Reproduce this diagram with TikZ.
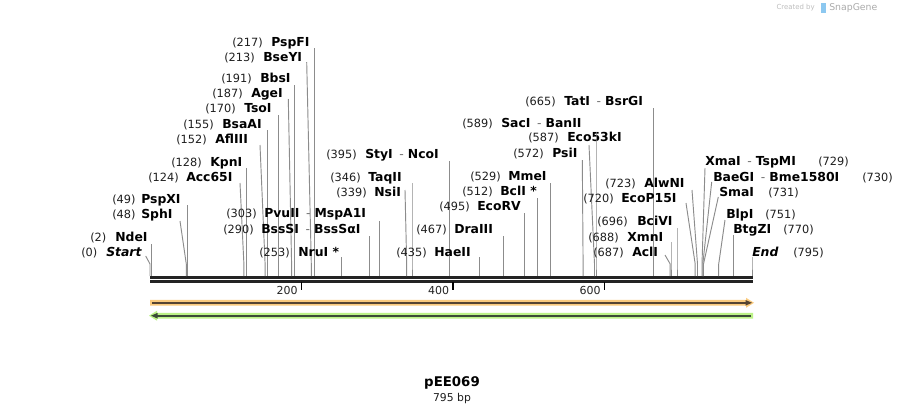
\documentclass[tikz,border=0pt]{standalone}
\usepackage{fontspec}
\setmainfont{DejaVu Sans}
\definecolor{seqc}{RGB}{35,35,35}
\definecolor{cutc}{RGB}{140,140,140}
\definecolor{numc}{RGB}{30,30,30}
\definecolor{dashc}{RGB}{110,110,110}
\definecolor{orL}{RGB}{250,202,125}
\definecolor{orD}{RGB}{85,68,50}
\definecolor{grL}{RGB}{188,242,135}
\definecolor{grD}{RGB}{60,75,55}
\definecolor{credc}{RGB}{190,190,190}
\definecolor{sgblue}{RGB}{140,200,240}
\newcommand{\dsh}{\hspace{5pt}{\mdseries\color{dashc}-}\hspace{3pt}}
\newcommand{\rsite}[8]{%
  \node[numtxt, anchor=base west] (p#1) at (#4,#6+4) {#2};
  \node[nmtxt, anchor=base west] (n#1) at (#5,#6+4) {#3};
  \coordinate (t#1) at #7;
  \coordinate (k#1) at (#8,264);
  \coordinate (s#1) at (#8,276);
  \draw[cutline] (t#1) -- (k#1) -- (s#1);
}
\begin{document}
\begin{tikzpicture}[x=0.75pt,y=-0.75pt,
  numtxt/.style={font=\fontsize{8.5}{10}\selectfont, text=numc, inner sep=0pt},
  nmtxt/.style={font=\fontsize{9.3}{11}\selectfont\bfseries, text=black, inner sep=0pt},
  cutline/.style={draw=cutc, line width=0.7pt},
  seqline/.style={draw=seqc, line width=2.1pt},
  ticktxt/.style={font=\fontsize{8.25}{10}\selectfont, text=seqc, inner sep=0pt, anchor=base east},
  tickmark/.style={draw=black, line width=1.2pt}]
\useasboundingbox[fill=white] (0,0) rectangle (904,415);

% sequence backbone
\coordinate (L1) at (150,277.3); \coordinate (R1) at (753,277.3);
\coordinate (L2) at (150,281.6); \coordinate (R2) at (753,281.6);
\draw[seqline] (L1) -- (R1);
\draw[seqline] (L2) -- (R2);

% ticks
\foreach \v/\xx in {200/301.4, 400/452.9, 600/604.3}{
  \coordinate (ta\v) at (\xx,281.6);
  \coordinate (tb\v) at (\xx,289.5);
  \draw[tickmark] (ta\v) -- (tb\v);
  \node[ticktxt] (tl\v) at (\xx-3.5,294) {\v};
}

% features (arrows)
\fill[orL] (150,299.9) -- (746,299.9) -- (746,297.8) -- (754,302.8) -- (746,307.8) -- (746,305.7) -- (150,305.7) -- cycle;
\draw[orD, line width=1.3pt] (152,302.8) -- (747,302.8);
\fill[orD] (745.5,300.0) -- (752,302.8) -- (745.5,305.6) -- cycle;
\fill[grL] (753,312.8) -- (157,312.8) -- (157,310.7) -- (149,315.7) -- (157,320.7) -- (157,318.6) -- (753,318.6) -- cycle;
\draw[grD, line width=1.3pt] (751,315.7) -- (156,315.7);
\fill[grD] (157.5,312.9) -- (151,315.7) -- (157.5,318.5) -- cycle;

% left group
\rsite{st}{(0)}{\itshape Start}{81}{106}{252}{(145.7,256)}{150.0}
\rsite{nde}{(2)}{NdeI}{90}{115}{237}{(151.5,244)}{151.5}
\rsite{sph}{(48)}{SphI}{112}{141}{214}{(180,221)}{186.3}
\rsite{psx}{(49)}{PspXI}{112}{141}{199}{(187.1,205)}{187.1}
\rsite{acc}{(124)}{Acc65I}{148}{186}{177}{(240,183)}{243.9}
\rsite{kpn}{(128)}{KpnI}{171}{210}{162}{(246.9,168)}{246.9}
\rsite{afl}{(152)}{AflIII}{176}{215}{139}{(260,145)}{265.1}
\rsite{bsa}{(155)}{BsaAI}{183}{222}{124}{(267.4,130)}{267.4}
\rsite{tso}{(170)}{TsoI}{205}{244}{108}{(278.7,115)}{278.7}
\rsite{age}{(187)}{AgeI}{212}{251}{93}{(288.3,99)}{291.6}
\rsite{bbs}{(191)}{BbsI}{221}{260}{78}{(294.6,85)}{294.6}
\rsite{bse}{(213)}{BseYI}{224}{263}{57}{(306.7,62)}{311.3}
\rsite{psf}{(217)}{PspFI}{232}{271}{42}{(314.3,48)}{314.3}

% middle group
\rsite{nru}{(253)}{NruI *}{259}{298}{252}{(341.6,257)}{341.6}
\rsite{bss}{(290)}{BssSI\dsh BssSαI}{223}{261}{229}{(369.6,236)}{369.6}
\rsite{pvu}{(303)}{PvuII\dsh MspA1I}{226}{264}{213}{(379.4,221)}{379.4}
\rsite{nsi}{(339)}{NsiI}{336}{374}{192}{(405,190)}{406.7}
\rsite{taq}{(346)}{TaqII}{330}{368}{177}{(412,183)}{412.0}
\rsite{sty}{(395)}{StyI\dsh NcoI}{326}{365}{154}{(449.1,161)}{449.1}
\rsite{hae}{(435)}{HaeII}{396}{434}{252}{(479.4,257)}{479.4}
\rsite{dra}{(467)}{DraIII}{416}{454}{229}{(503.6,236)}{503.6}
\rsite{eco}{(495)}{EcoRV}{439}{477}{206}{(524.8,213)}{524.8}
\rsite{bcl}{(512)}{BclI *}{462}{500}{191}{(537.7,198)}{537.7}
\rsite{mme}{(529)}{MmeI}{470}{508}{176}{(550.6,183)}{550.6}
\rsite{psi}{(572)}{PsiI}{513}{552}{153}{(582.3,160)}{583.1}
\rsite{e53}{(587)}{Eco53kI}{528}{567}{137}{(589,145)}{594.5}
\rsite{sac}{(589)}{SacI\dsh BanII}{462}{501}{123}{(596,132)}{596.0}
\rsite{tat}{(665)}{TatI\dsh BsrGI}{525}{564}{101}{(653.6,108)}{653.6}

% right group
\rsite{acl}{(687)}{AclI}{593}{632}{252}{(665,255)}{670.2}
\rsite{xmn}{(688)}{XmnI}{588}{627}{237}{(671,242)}{671.0}
\rsite{bci}{(696)}{BciVI}{597}{637}{221}{(677,228)}{677.0}
\rsite{p15}{(720)}{EcoP15I}{583}{621}{198}{(686,203)}{695.2}
\rsite{alw}{(723)}{AlwNI}{605}{644}{183}{(692,190)}{697.5}
\rsite{xma}{(729)}{XmaI\dsh TspMI}{818}{705}{161}{(705,168)}{702.0}
\rsite{bae}{(730)}{BaeGI\dsh Bme1580I}{862}{713}{177}{(711.7,182)}{702.8}
\rsite{sma}{(731)}{SmaI}{768}{719}{192}{(718.3,197)}{703.5}
\rsite{blp}{(751)}{BlpI}{765}{726}{214}{(725,220)}{718.7}
\rsite{btg}{(770)}{BtgZI}{783}{733}{229}{(733.1,235)}{733.1}
\rsite{end}{(795)}{\itshape End}{793}{752}{252}{(752,257)}{752.0}

% title
\node[font=\fontsize{10}{12}\selectfont\bfseries, inner sep=0pt] (title) at (452,383) {pEE069};
\node[font=\fontsize{8.1}{10}\selectfont, text=numc, inner sep=0pt] (len) at (452,398.5) {795 bp};

% credit
\node[font=\fontsize{5.2}{6}\selectfont, text=credc, inner sep=0pt, anchor=east] (cred) at (815,8) {Created by};
\fill[sgblue] (821,3) rectangle (826,13);
\node[font=\fontsize{7}{8}\selectfont, text=credc!90!black, inner sep=0pt, anchor=west] (sg) at (829,8) {SnapGene};
\end{tikzpicture}
\end{document}
